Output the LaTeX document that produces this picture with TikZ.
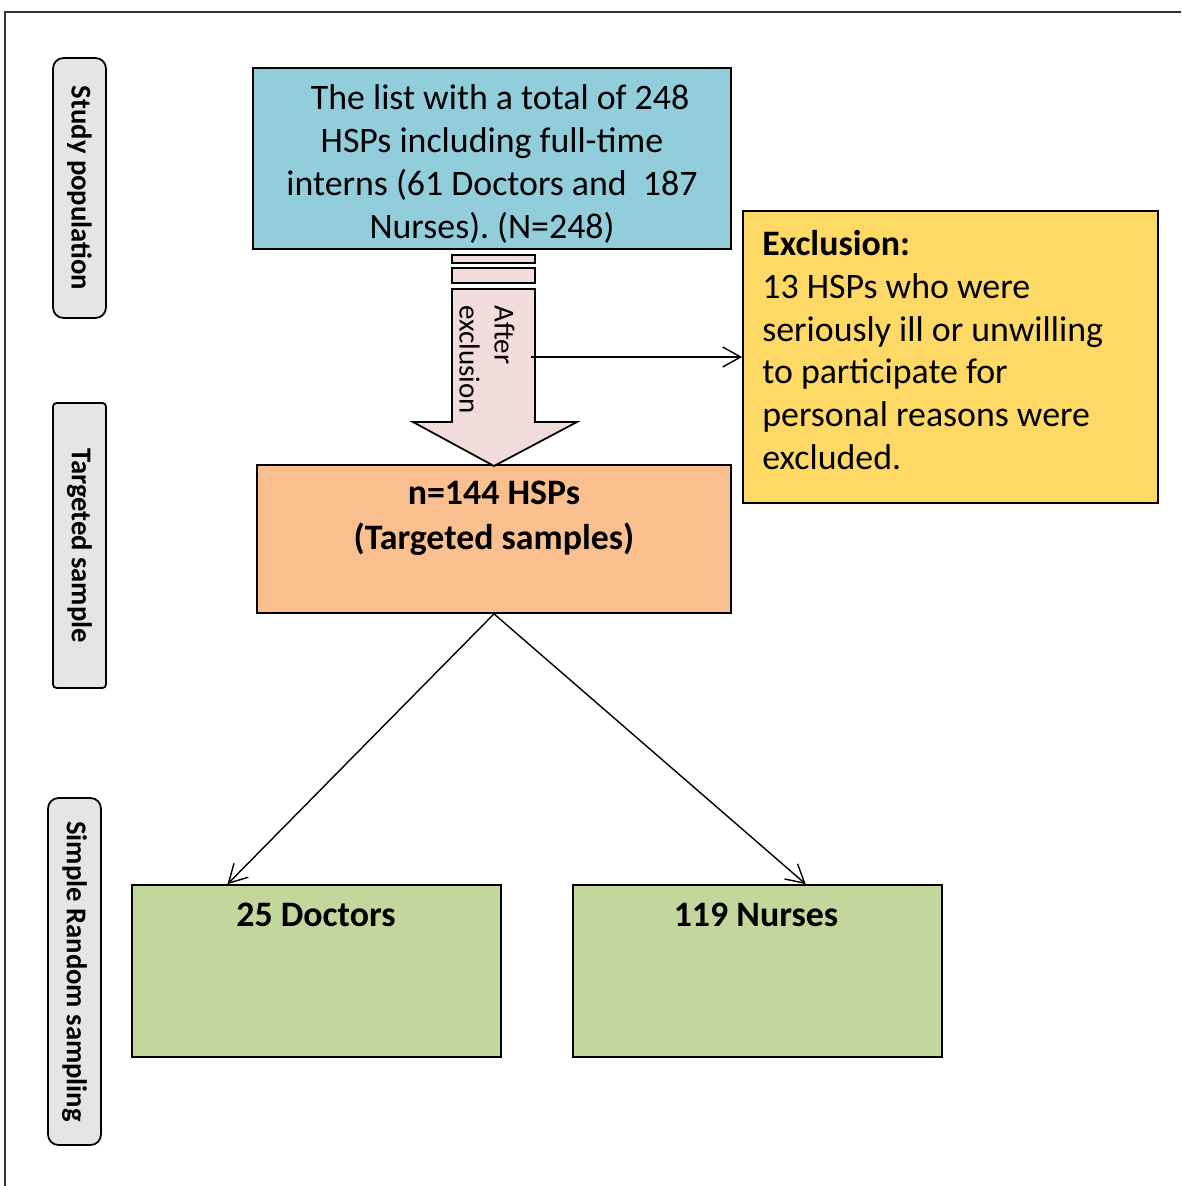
\documentclass[tikz,border=0pt]{standalone}
\usepackage{fontspec}
\setmainfont{Carlito}
\usetikzlibrary{fit, calc, arrows.meta}

\definecolor{sidegray}{RGB}{229,229,231}
\definecolor{listblue}{RGB}{146,205,220}
\definecolor{exclyellow}{RGB}{255,217,102}
\definecolor{arrowpink}{RGB}{242,220,219}
\definecolor{targetorange}{RGB}{250,191,143}
\definecolor{groupgreen}{RGB}{195,214,155}

\tikzset{
	box/.style = {draw, line width = 1pt, inner sep = 0pt},
	sidebox/.style = {box, fill = sidegray, rounded corners = 5pt},
	sidetxt/.style = {font = \fontsize{16.3}{19}\selectfont\bfseries, rotate = -90, inner sep = 0pt},
	bodytxt/.style = {font = \fontsize{20.4}{24.4}\selectfont, inner sep = 0pt},
	headtxt/.style = {bodytxt, font = \fontsize{20.4}{25.5}\selectfont\bfseries},
	conn/.style = {line width = 0.8pt, -{Straight Barb[length = 3.6mm, width = 4mm, line width = 0.8pt]}}
}

\begin{document}
\begin{tikzpicture}[x = 0.02cm, y = -0.02cm]
	
		\useasboundingbox (0, 0) rectangle (1181, 1186);
		\draw[line width = 0.8pt, black!80] (5, 1186) -- (5, 12) -- (1181, 12);
		
		% side labels
		\node[sidebox, rounded corners = 6pt, fit = {(53, 58) (106, 318)}] (study) {};
		\node[sidebox, rounded corners = 2pt, fit = {(53, 403) (106, 688)}] (targeted) {};
		\node[sidebox, rounded corners = 6pt, fit = {(48, 798) (101, 1145)}] (sampling) {};
		
		\node[sidetxt] (studytxt) at (study.center) {Study population};
		\node[sidetxt] (targetedtxt) at (targeted.center) {Targeted sample};
		\node[sidetxt] (samplingtxt) at (sampling.center) {Simple Random sampling};
		
		% boxes
		\node[box, fill = listblue, fit = {(253, 68) (731, 249)}] (list) {};
		\node[box, fill = exclyellow, fit = {(743, 211) (1158, 503)}] (excl) {};
		\node[box, fill = targetorange, fit = {(257, 465) (731, 613)}] (target) {};
		\node[box, fill = groupgreen, fit = {(132, 885) (501, 1057)}] (doctors) {};
		\node[box, fill = groupgreen, fit = {(573, 885) (942, 1057)}] (nurses) {};
		
		\node[bodytxt, align = center] (listtxt) at (492, 164)
			{\ \ The list with a total of 248\\HSPs including full-time\\interns (61 Doctors and\ \ 187\\Nurses).\ (N=248)};
		\node[bodytxt, align = left, anchor = west] (excltxt) at (762, 350)
			{\textbf{Exclusion:}\\13 HSPs who were\\seriously ill or unwilling\\to participate for\\personal reasons were\\excluded.};
		\node[headtxt, align = center] (targettxt) at (494, 518) {n=144 HSPs\\(Targeted samples)};
		\node[headtxt] (doctorstxt) at (316, 915) {25 Doctors};
		\node[headtxt] (nursestxt) at (756, 915) {119 Nurses};
		
		% block arrow
		\draw[line width = 1pt, fill = arrowpink] (452, 255) rectangle (535, 263);
		\draw[line width = 1pt, fill = arrowpink] (452, 268) rectangle (535, 283);
		\draw[line width = 1pt, fill = arrowpink] (452, 289) -- (535, 289) -- (535, 422) -- (577, 422)
			-- (494, 466) -- (413, 422) -- (452, 422) -- cycle;
		\node[font = \fontsize{16.5}{20}\selectfont, rotate = -90, align = left, anchor = west, inner sep = 0pt]
			(aftertxt) at (487, 305) {After\\exclusion};
		
		% connectors
		\coordinate (shaftR) at (531, 357);
		\draw[conn] (shaftR) -- (excl.west);
		\draw[conn] (target.south) -- ($(doctors.north west)!0.26!(doctors.north east)$);
		\draw[conn] (target.south) -- ($(nurses.north west)!0.63!(nurses.north east)$);
		
	\end{tikzpicture}
\end{document}
